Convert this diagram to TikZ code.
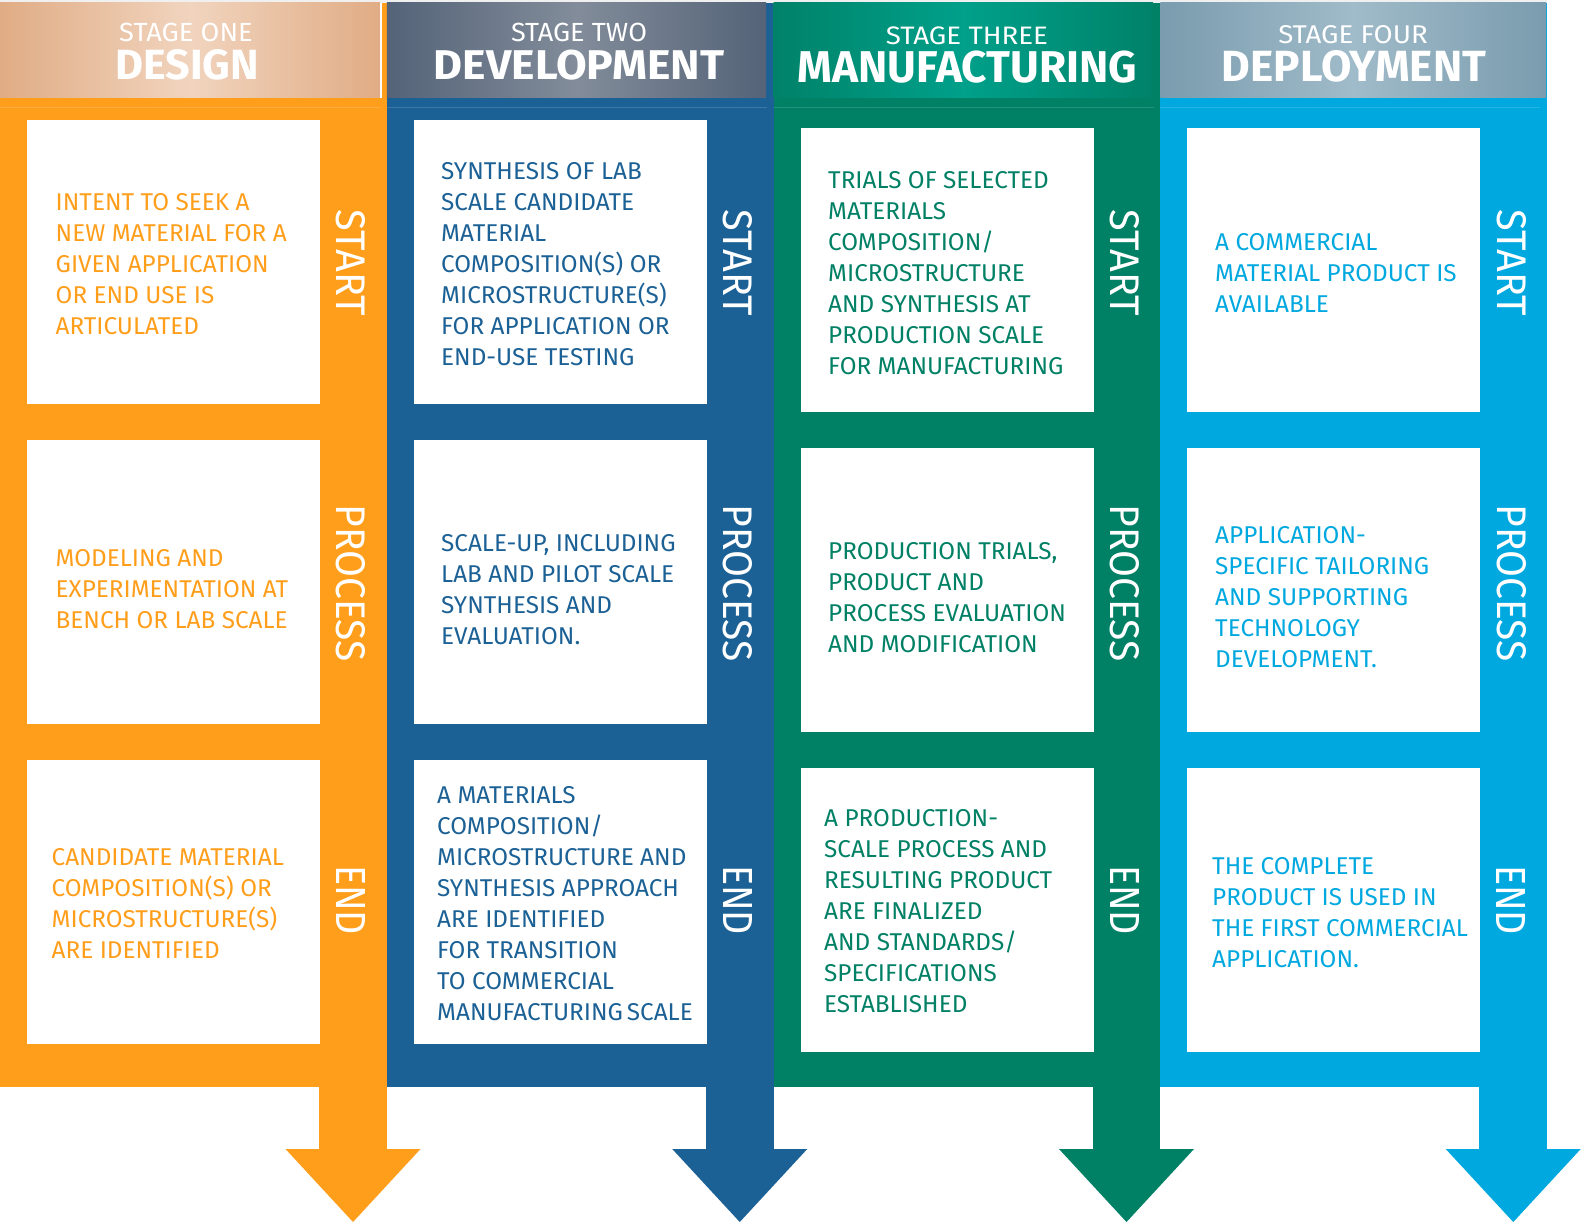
\documentclass[tikz,border=0pt]{standalone}
\usepackage{fontspec}
\setmainfont{Fira Sans}
\definecolor{cOr}{RGB}{255,158,27}
\definecolor{cBl}{RGB}{28,97,149}
\definecolor{cGr}{RGB}{0,128,101}
\definecolor{cLb}{RGB}{0,168,224}
\definecolor{hOrE}{RGB}{224,172,133}
\definecolor{hOrM}{RGB}{241,212,190}
\definecolor{hBlE}{RGB}{84,99,120}
\definecolor{hBlM}{RGB}{130,140,154}
\definecolor{hGrE}{RGB}{0,130,105}
\definecolor{hGrM}{RGB}{0,160,138}
\definecolor{hLbE}{RGB}{122,156,174}
\definecolor{hLbM}{RGB}{160,187,201}
\newcommand{\bodytext}[1]{\parbox[t]{330pt}{\raggedright\fontsize{24.3}{31}\selectfont #1}}
\tikzset{
  lbl/.style={inner sep=0, text=white, rotate=-90},
  hd/.style={inner sep=0, text=white},
  bt/.style={inner sep=0, anchor=base west},
}
\begin{document}
\begin{tikzpicture}[x=1pt,y=-1pt]
\useasboundingbox (0,0) rectangle (1581,1225);
\fill[gray!12] (0,0) rectangle (1547,3);
% columns, shafts, arrowheads
\foreach \L/\c in {0/cOr, 386.75/cBl, 773.5/cGr, 1160.25/cLb}{
  \fill[\c] (\L,3) rectangle (\L+386.75,1087);
  \fill[\c] (\L+319,1086) rectangle (\L+386.75,1150);
  \fill[\c] (\L+285.5,1149) -- (\L+420.5,1149) -- (\L+353,1222) -- cycle;
}
% headers
\shade[left color=hOrE, right color=hOrE, middle color=hOrM] (0,3) rectangle (380,98);
\shade[left color=hBlE, right color=hBlE, middle color=hBlM] (386.75,3) rectangle (766,98);
\shade[left color=hGrE, right color=hGrE, middle color=hGrM] (773.5,3) rectangle (1153,98);
\shade[left color=hLbE, right color=hLbE, middle color=hLbM] (1160.25,3) rectangle (1546,98);
\draw[white, line width=1.5] (381,3) -- (381,98);
% faint lines
\foreach \L in {0, 386.75, 773.5, 1160.25}{
  \draw[white, opacity=0.15, line width=1] (\L,108) -- (\L+380,108);
}
% white boxes
\foreach \L/\o in {0/0, 386.75/0, 773.5/8, 1160.25/8}{
  \foreach \t in {120,440,760}{
    \fill[white] (\L+27,\t+\o) rectangle (\L+320,\t+\o+284);
  }
}
% header texts
\node[hd] (h1a) at (186,32.5) {\resizebox{133.5pt}{18.4pt}{STAGE ONE}};
\node[hd] (h1b) at (187,65) {\resizebox{143.5pt}{30pt}{\bfseries DESIGN}};
\node[hd] (h2a) at (579,32.5) {\resizebox{136pt}{18.4pt}{STAGE TWO}};
\node[hd] (h2b) at (579,64.7) {\resizebox{290pt}{29.5pt}{\bfseries DEVELOPMENT}};
\node[hd] (h3a) at (967,35.5) {\resizebox{162pt}{17.7pt}{STAGE THREE}};
\node[hd] (h3b) at (967.5,67.5) {\resizebox{339pt}{31.6pt}{\bfseries MANUFACTURING}};
\node[hd] (h4a) at (1353,35) {\resizebox{149.5pt}{18pt}{STAGE FOUR}};
\node[hd] (h4b) at (1354,66) {\resizebox{264pt}{31pt}{\bfseries DEPLOYMENT}};
% vertical labels
\foreach \L/\n in {0/1, 386.75/2, 773.5/3, 1160.25/4}{
  \node[lbl] (start\n) at (\L+351,263) {\resizebox{106pt}{29pt}{START}};
  \node[lbl] (proc\n) at (\L+351,583) {\resizebox{157pt}{29pt}{PROCESS}};
  \node[lbl] (end\n) at (\L+351,900) {\resizebox{70pt}{29pt}{END}};
}
% column 1 texts
\node[bt, text=cOr] (t11) at (55.5,210.5) {\bodytext{INTENT TO SEEK A\\NEW MATERIAL FOR A\\GIVEN APPLICATION\\OR END USE IS\\ARTICULATED}};
\node[bt, text=cOr] (t12) at (55.5,566) {\bodytext{MODELING AND\\EXPERIMENTATION AT\\BENCH OR LAB SCALE}};
\node[bt, text=cOr] (t13) at (51.5,865) {\bodytext{CANDIDATE MATERIAL\\COMPOSITION(S) OR\\MICROSTRUCTURE(S)\\ARE IDENTIFIED}};
% column 2 texts
\node[bt, text=cBl] (t21) at (441,179.2) {\bodytext{SYNTHESIS OF LAB\\SCALE CANDIDATE\\MATERIAL\\COMPOSITION(S) OR\\MICROSTRUCTURE(S)\\FOR APPLICATION OR\\END-USE TESTING}};
\node[bt, text=cBl] (t22) at (441,551) {\bodytext{SCALE-UP, INCLUDING\\LAB AND PILOT SCALE\\SYNTHESIS AND\\EVALUATION.}};
\node[bt, text=cBl] (t23) at (437,803.5) {\bodytext{A MATERIALS\\COMPOSITION/\\MICROSTRUCTURE AND\\SYNTHESIS APPROACH\\ARE IDENTIFIED\\FOR TRANSITION\\TO COMMERCIAL\\MANUFACTURING\,SCALE}};
% column 3 texts
\node[bt, text=cGr] (t31) at (828,188.3) {\bodytext{TRIALS OF SELECTED\\MATERIALS\\COMPOSITION/\\MICROSTRUCTURE\\AND SYNTHESIS AT\\PRODUCTION SCALE\\FOR MANUFACTURING}};
\node[bt, text=cGr] (t32) at (828,559) {\bodytext{PRODUCTION TRIALS,\\PRODUCT AND\\PROCESS EVALUATION\\AND MODIFICATION}};
\node[bt, text=cGr] (t33) at (824,826.5) {\bodytext{A PRODUCTION-\\SCALE PROCESS AND\\RESULTING PRODUCT\\ARE FINALIZED\\AND STANDARDS/\\SPECIFICATIONS\\ESTABLISHED}};
% column 4 texts
\node[bt, text=cLb] (t41) at (1215,250) {\bodytext{A COMMERCIAL\\MATERIAL PRODUCT IS\\AVAILABLE}};
\node[bt, text=cLb] (t42) at (1215,543.8) {\bodytext{APPLICATION-\\SPECIFIC TAILORING\\AND SUPPORTING\\TECHNOLOGY\\DEVELOPMENT.}};
\node[bt, text=cLb] (t43) at (1212,874) {\bodytext{THE COMPLETE\\PRODUCT IS USED IN\\THE FIRST COMMERCIAL\\APPLICATION.}};
\end{tikzpicture}
\end{document}
